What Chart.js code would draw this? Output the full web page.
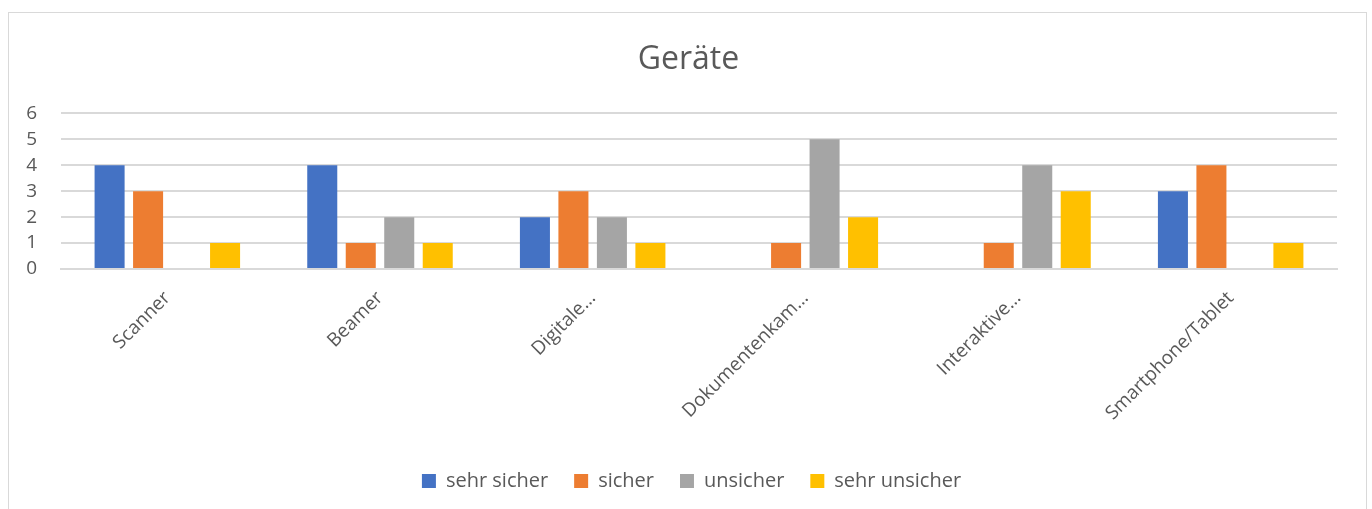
<!DOCTYPE html>
<html>
<head>
<meta charset="utf-8">
<script src="https://cdn.jsdelivr.net/npm/chart.js@4"></script>
<style>
    body { margin: 0; background: #fff; }
    #wrap { position: relative; width: 1372px; height: 509px; overflow: hidden; }
    #frame { position: absolute; left: 8px; top: 12px; width: 1357px; height: 520px; border: 1px solid #d9d9d9; }
    canvas { position: absolute; left: 0; top: 0; }
</style>
</head>
<body>
<div id="wrap">
    <div id="frame"></div>
    <canvas id="mainChart" width="1372" height="509"></canvas>
</div>
<script>
// Kategorien (gekürzt wie im Original)
const categories = ['Scanner', 'Beamer', 'Digitale…', 'Dokumentenkam…', 'Interaktive…', 'Smartphone/Tablet'];

// Werte je Serie
const sehrSicher   = [4, 4, 2, 0, 0, 3];
const sicher       = [3, 1, 3, 1, 1, 4];
const unsicher     = [0, 2, 2, 5, 4, 0];
const sehrUnsicher = [1, 1, 1, 2, 3, 1];

const seriesNames = ['sehr sicher', 'sicher', 'unsicher', 'sehr unsicher'];
const yTicks = [0, 1, 2, 3, 4, 5, 6];

const textColor = '#595959';
const font = '"Open Sans", "DejaVu Sans", sans-serif';

function makeSet(label, data, color) {
    return {
        label: label,
        data: data,
        backgroundColor: color,
        borderWidth: 0,
        categoryPercentage: 0.724,
        barPercentage: 0.78
    };
}

// Titel und Legende etwas nach rechts schieben (wie im Excel-Original)
const boxShift = {
    id: 'boxShift',
    afterLayout(chart) {
        if (chart.legend) {
            chart.legend.left += 23;
            chart.legend.right += 23;
        }
        if (chart.titleBlock) {
            chart.titleBlock.left += 20;
            chart.titleBlock.right += 20;
        }
    }
};

new Chart(document.getElementById('mainChart').getContext('2d'), {
    type: 'bar',
    data: {
        labels: categories,
        datasets: [
            makeSet(seriesNames[0], sehrSicher, '#4472C4'),
            makeSet(seriesNames[1], sicher, '#ED7D31'),
            makeSet(seriesNames[2], unsicher, '#A5A5A5'),
            makeSet(seriesNames[3], sehrUnsicher, '#FFC000')
        ]
    },
    plugins: [boxShift],
    options: {
        responsive: false,
        animation: false,
        layout: { padding: { left: 0, right: 35, top: 13, bottom: 8 } },
        plugins: {
            title: {
                display: true,
                text: 'Geräte',
                color: textColor,
                font: { family: font, size: 32, weight: 'normal' },
                padding: { top: 28, bottom: 34 }
            },
            legend: {
                position: 'bottom',
                labels: {
                    color: textColor,
                    font: { family: font, size: 20 },
                    boxWidth: 14,
                    boxHeight: 14,
                    padding: 26
                }
            },
            tooltip: { enabled: false }
        },
        scales: {
            x: {
                grid: { display: false, drawTicks: false },
                border: { display: true, color: '#d9d9d9', width: 2 },
                ticks: {
                    color: textColor,
                    font: { family: font, size: 19 },
                    minRotation: 45,
                    maxRotation: 45,
                    autoSkip: false,
                    padding: 18
                },
                afterFit: function (scale) { scale.height = 176; }
            },
            y: {
                min: 0,
                max: 6,
                afterBuildTicks: function (scale) {
                    scale.ticks = yTicks.map(v => ({ value: v }));
                },
                grid: { color: '#d9d9d9', lineWidth: 2, drawTicks: false },
                border: { display: false },
                ticks: {
                    color: textColor,
                    font: { family: font, size: 19 },
                    padding: 24,
                    autoSkip: false
                },
                afterFit: function (scale) { scale.width = 61; }
            }
        }
    }
});
</script>
</body>
</html>
